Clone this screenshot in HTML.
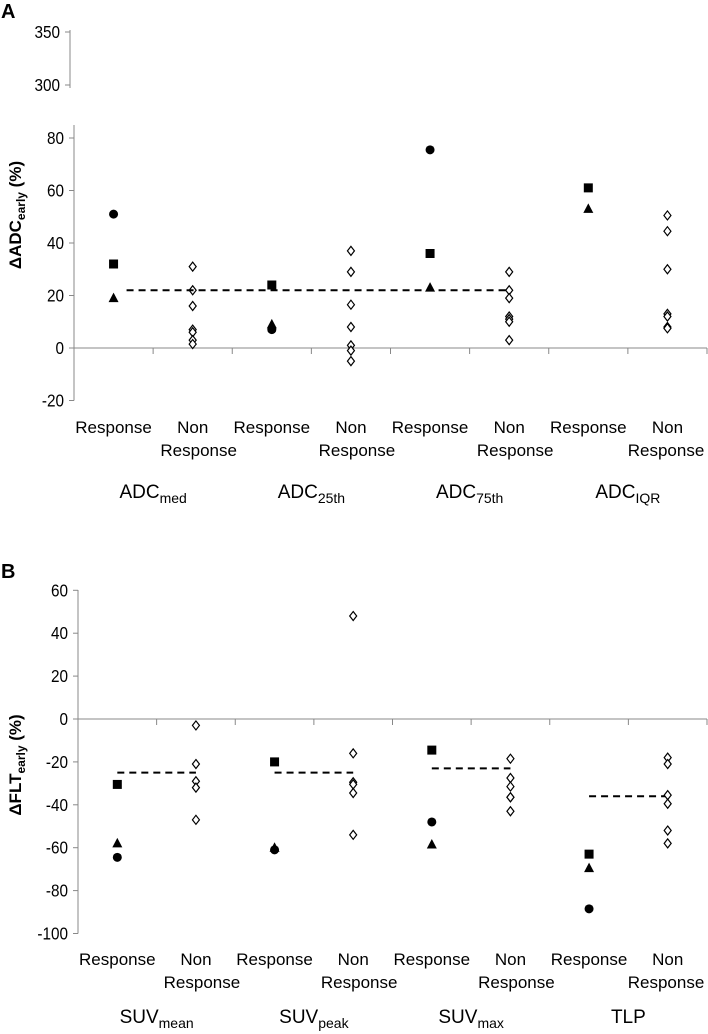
<!DOCTYPE html>
<html><head><meta charset="utf-8"><style>
body{margin:0;background:#fff;width:708px;height:1034px;overflow:hidden}
svg{display:block}
text{font-family:"Liberation Sans",sans-serif;fill:#000}
</style></head><body>
<svg id="c" width="708" height="1034"></svg>
<script>
// Panel A data
const catsA = ["ADC|med","ADC|25th","ADC|75th","ADC|IQR"];
const respA_circle = [51, 7, 75.5, null];
const respA_square = [32, 24, 36, 61];
const respA_tri = [19, 9, 23, 53];
const nonA = [[31,22,16,7,6,3,1.5],[37,29,16.5,8,1,-1,-5],[29,22,19,12,11,10,3],[50.5,44.5,30,13,12,8,7.5]];
const thrA = [22];
const ticksA = [-20,0,20,40,60,80];
const ticksAtop = [300,350];
// Panel B data
const catsB = ["SUV|mean","SUV|peak","SUV|max","TLP|"];
const respB_circle = [-64.5,-61,-48,-88.5];
const respB_square = [-30.5,-20,-14.5,-63];
const respB_tri = [-58,-60,-58.5,-69.5];
const nonB = [[-3,-21,-29,-32,-47],[48,-16,-29.5,-30.5,-34.5,-54],[-18.5,-27.5,-31.5,-36.5,-36.5,-43],[-18,-21,-35.5,-39.5,-52,-58]];
const thrB = [-25,-25,-23,-36];
const ticksB = [-100,-80,-60,-40,-20,0,20,40,60];

const NS="http://www.w3.org/2000/svg";
const svg=document.getElementById('c');
function mk(tag,attrs,parent){const e=document.createElementNS(NS,tag);for(const k in attrs)e.setAttribute(k,attrs[k]);(parent||svg).appendChild(e);return e;}
function txt(x,y,s,size,anchor,extra){const t=mk('text',Object.assign({x:x,y:y,'font-size':size,'text-anchor':anchor||'start'},extra||{}));t.textContent=s;return t;}

function marker(kind,x,y){
  let e;
  if(kind==='circle'){e=mk('circle',{cx:x,cy:y,r:4.5,fill:'#000'});}
  else if(kind==='square'){e=mk('rect',{x:x-4.5,y:y-4.5,width:9,height:9,fill:'#000'});}
  else if(kind==='tri'){e=mk('polygon',{points:`${x},${y-5.5} ${x+5},${y+4} ${x-5},${y+4}`,fill:'#000'});}
  else {e=mk('polygon',{points:`${x},${y-4.5} ${x+3.5},${y} ${x},${y+4.5} ${x-3.5},${y}`,fill:'#fff',stroke:'#000','stroke-width':1.2});}
  
  
}

function panel(o){
  const y=v=>o.y0-(v)*o.ppu;
  const slot=(o.xr-o.xa)/8;
  const cx=i=>o.xa+slot*(i+0.5);
  const ax=mk('line',{x1:o.xa,y1:o.axTop,x2:o.xa,y2:y(o.ymin),stroke:'#888','stroke-width':1});
  
  
  o.ticks.forEach(t=>{
    mk('line',{x1:o.xa-5,y1:y(t),x2:o.xa,y2:y(t),stroke:'#888'});
    const l=txt((o.xa-10)/0.85,y(t)+6,String(t),18,'end',{transform:`scale(0.85,1)`});
    
    
  });
  const xl=mk('line',{x1:o.xa,y1:y(0),x2:o.xr,y2:y(0),stroke:'#888','stroke-width':1});
  
  
  for(let i=1;i<=8;i++) mk('line',{x1:o.xa+slot*i,y1:y(0),x2:o.xa+slot*i,y2:y(0)+6,stroke:'#888'});
  if(o.thr){
    o.thr.forEach((v,g)=>{
      const d=mk('line',{x1:cx(2*g),y1:y(v),x2:cx(2*g+1),y2:y(v),stroke:'#000','stroke-width':2,'stroke-dasharray':'7,5'});
      
      
    });
  }
  for(let g=0;g<4;g++){
    if(o.sq[g]!=null)marker('square',cx(2*g),y(o.sq[g]));
    if(o.tr[g]!=null)marker('tri',cx(2*g),y(o.tr[g]));
    if(o.ci[g]!=null)marker('circle',cx(2*g),y(o.ci[g]));
    o.non[g].forEach(v=>marker('diamond',cx(2*g+1),y(v)));
  }
  for(let i=0;i<8;i++){
    if(i%2===0){const t=txt(cx(i),o.lab1,'Response',17,'middle');}
    else{const t=txt(cx(i),o.lab1,'Non',17,'middle');
      const t2=txt(Math.min(cx(i)+6,666),o.lab1+23,'Response',17,'middle');}
  }
  o.cats.forEach((c,g)=>{
    const [a,b]=c.split('|');
    const t=mk('text',{x:(cx(2*g)+cx(2*g+1))/2,y:o.lab2,'font-size':19,'text-anchor':'middle'});
    
    
    t.appendChild(document.createTextNode(a));
    if(b){const s=document.createElementNS(NS,'tspan');s.setAttribute('font-size',14);s.setAttribute('dy',5);s.textContent=b;t.appendChild(s);}
  });
  return {y,cx};
}

// Panel A
const pA=panel({xa:74,xr:707,y0:348,ppu:52.5/20,ymin:-20,axTop:125,ticks:ticksA,thr:null,
  sq:respA_square,tr:respA_tri,ci:respA_circle,non:nonA,cats:catsA,lab1:433,lab2:498});
(function(){
  const d=mk('line',{x1:pA.cx(0)+13,y1:pA.y(thrA[0]),x2:pA.cx(5)-2,y2:pA.y(thrA[0]),stroke:'#000','stroke-width':2,'stroke-dasharray':'7,5'});
  
  
})();
(function(){
  const sc=(85-32)/50;
  const l=mk('line',{x1:70,y1:30,x2:70,y2:88,stroke:'#888'});
  
  
  ticksAtop.forEach(t=>{const yy=85-(t-300)*sc;mk('line',{x1:65,y1:yy,x2:70,y2:yy,stroke:'#888'});
    const tl=txt(60/0.85,yy+6,String(t),18,'end',{transform:'scale(0.85,1)'});
    
    });
})();
// Panel B
panel({xa:78,xr:707,y0:719,ppu:2.145,ymin:-100,axTop:590,ticks:ticksB,thr:thrB,
  sq:respB_square,tr:respB_tri,ci:respB_circle,non:nonB,cats:catsB,lab1:965,lab2:1023});

let t=txt(1,18,'A',20,'start',{'font-weight':'bold'});
t=txt(1,578,'B',20,'start',{'font-weight':'bold'});
function ytitle(cx,cy,main,sub){
  const e=mk('text',{x:0,y:0,'font-size':17,'font-weight':'bold','text-anchor':'middle',transform:`translate(${cx},${cy}) rotate(-90)`});
  
  
  e.appendChild(document.createTextNode(main));
  const s=document.createElementNS(NS,'tspan');s.setAttribute('font-size',12);s.setAttribute('dy',4);s.textContent=sub;e.appendChild(s);
  const s2=document.createElementNS(NS,'tspan');s2.setAttribute('dy',-4);s2.textContent=' (%)';e.appendChild(s2);
}
ytitle(21,215,'ΔADC','early');
ytitle(21,765,'ΔFLT','early');
</script>
</body></html>
